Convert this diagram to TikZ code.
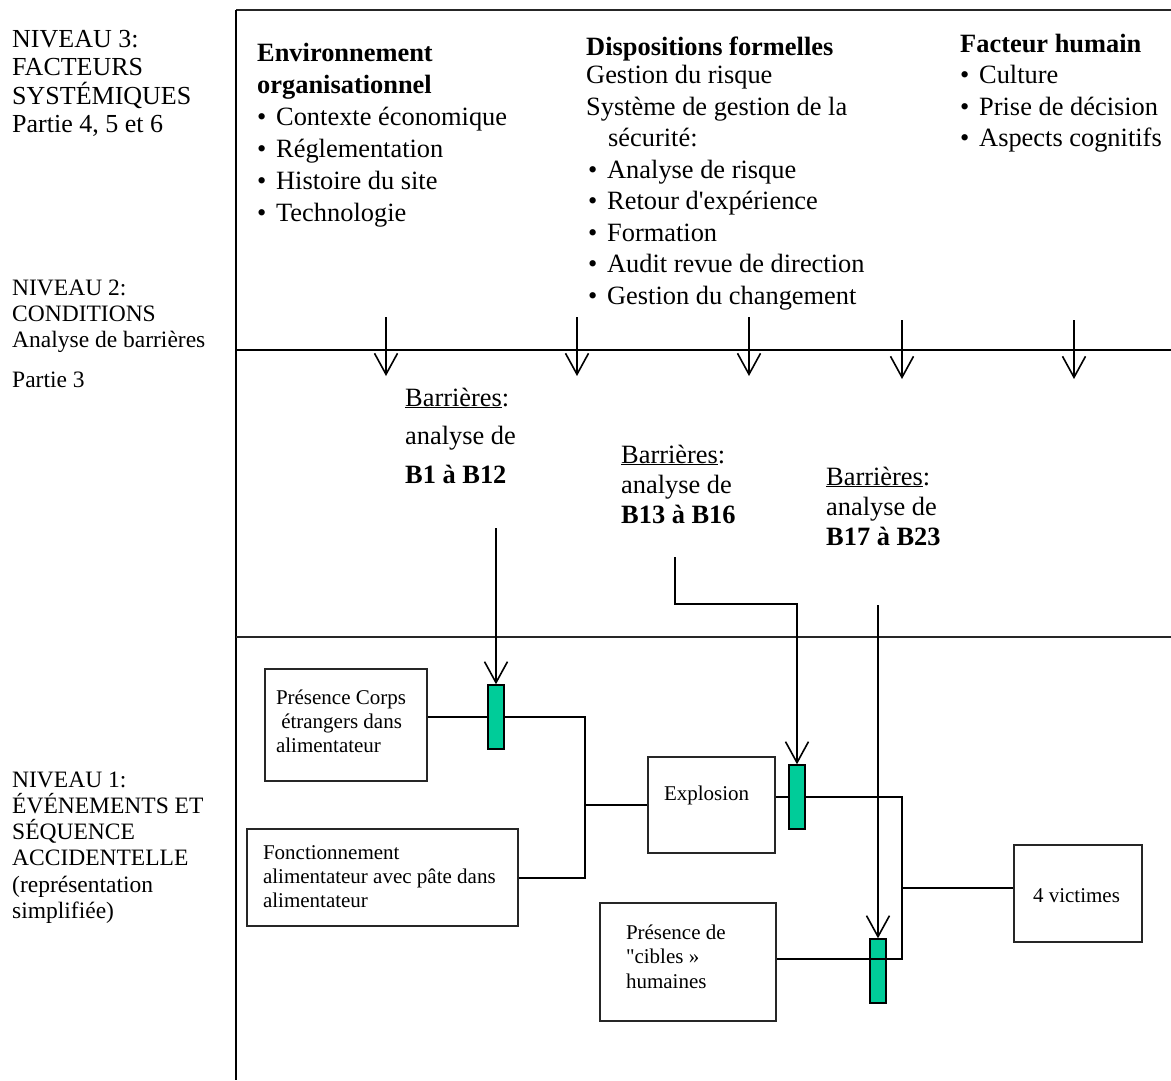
\documentclass[tikz,border=0pt]{standalone}
\usepackage{fontspec}
\setmainfont{Liberation Serif}
\usetikzlibrary{arrows.meta}

\definecolor{barrier}{RGB}{0,204,153}

% font sizes (1pt of the picture = one unit)
\newcommand\fsbody{\fontsize{26.4}{31.5}\selectfont}
\newcommand\fsthree{\fontsize{26}{28.5}\selectfont}
\newcommand\fslow{\fontsize{23.5}{26.3}\selectfont}
\newcommand\fsbox{\fontsize{21}{24}\selectfont}

% bullet followed by a fixed gap
\newcommand\bul{\hbox to 19pt{\textbullet\hfil}}
% stacked lines, baseline = first line
\newcommand\textrows[1]{\vtop{\lineskiplimit=-100pt #1}}
% stacked lines with a fixed block width
\newcommand\boxrows[2]{\vtop{\lineskiplimit=-100pt #2\hrule height 0pt depth 0pt width #1}}

\tikzset{
  txt/.style={inner sep=0pt, anchor=base west},
  frameline/.style={line width=1.5pt, black},
  levelline/.style={line width=2.2pt, black!85},
  conn/.style={line width=1.6pt, black},
  flowarrow/.style={conn, -{Straight Barb[length=21pt,width=23pt]}},
  event/.style={draw=black!85, line width=1.2pt, inner ysep=0pt, font=\fsbox},
  barrierbar/.style={draw=black, line width=1.4pt, fill=barrier,
    minimum width=16pt, minimum height=64pt, inner sep=0pt},
}

\begin{document}
\begin{tikzpicture}[x=1pt,y=-1pt]
\useasboundingbox (0,0) rectangle (1171,1080);

% frame and level separators
\draw[levelline] (236,10) -- (1171,10);
\draw[frameline] (236,10) -- (236,1080);
\draw[levelline, black] (236,350) -- (1171,350);
\draw[levelline] (236,637) -- (1171,637);

% level titles
\node[txt, font=\fsthree] (lvlthree) at (12,47)
  {\textrows{\hbox{NIVEAU 3:}\hbox{FACTEURS}\hbox{SYSTÉMIQUES}\hbox{Partie 4, 5 et 6}}};
\node[txt, font=\fslow] (lvltwo) at (12,295)
  {\textrows{\hbox{NIVEAU 2:}\hbox{CONDITIONS}\hbox{Analyse de barrières}\vskip13.5pt\hbox{Partie 3}}};
\node[txt, font=\fslow] (lvlone) at (12,787)
  {\textrows{\hbox{NIVEAU 1:}\hbox{ÉVÉNEMENTS ET}\hbox{SÉQUENCE}\hbox{ACCIDENTELLE}\hbox{(représentation}\hbox{simplifiée)}}};

% systemic factors
\node[txt, font=\fsbody] (orgenv) at (257,61)
  {\vtop{\baselineskip=32pt\lineskiplimit=-100pt
   \hbox{\textbf{Environnement}}\hbox{\textbf{organisationnel}}
   \hbox{\bul Contexte économique}\hbox{\bul Réglementation}
   \hbox{\bul Histoire du site}\hbox{\bul Technologie}}};
\node[txt, font=\fsbody] (formal) at (586,55)
  {\textrows{\hbox{\textbf{Dispositions formelles}}\vskip-3pt
   \hbox{Gestion du risque}\hbox{Système de gestion de la}\hbox{\kern22pt sécurité:}
   \hbox{\kern2pt\bul Analyse de risque}\hbox{\kern2pt\bul Retour d\textquotesingle expérience}
   \hbox{\kern2pt\bul Formation}\hbox{\kern2pt\bul Audit revue de direction}
   \hbox{\kern2pt\bul Gestion du changement}}};
\node[txt, font=\fsbody] (human) at (960,52)
  {\textrows{\hbox{\textbf{Facteur humain}}\hbox{\bul Culture}
   \hbox{\bul Prise de décision}\hbox{\bul Aspects cognitifs}}};

% influence of level 3 on level 2
\foreach[count=\i] \xa/\ya in {386/317, 577/317, 749/317, 902/320, 1074/320}{
  \coordinate (in\i) at (\xa,\ya);
  \coordinate (out\i) at (\xa,\ya+59);
  \draw[flowarrow] (in\i) -- (out\i);
}

% barrier analyses
\node[txt, font=\fsbody] (bfirst) at (405,406)
  {\vtop{\baselineskip=38.5pt\lineskiplimit=-100pt
   \hbox{\underline{Barrières}:}\hbox{analyse de}\hbox{\textbf{B1 à B12}}}};
\node[txt, font=\fsbody] (bsecond) at (621,463)
  {\vtop{\baselineskip=30pt\lineskiplimit=-100pt
   \hbox{\underline{Barrières}:}\hbox{analyse de}\hbox{\textbf{B13 à B16}}}};
\node[txt, font=\fsbody] (bthird) at (826,485)
  {\vtop{\baselineskip=30pt\lineskiplimit=-100pt
   \hbox{\underline{Barrières}:}\hbox{analyse de}\hbox{\textbf{B17 à B23}}}};

% accident sequence
\node[event, inner xsep=11pt, text height=35pt, text depth=77pt] (corps) at (346,725)
  {\boxrows{140pt}{\hbox{Présence Corps}\hbox{\ étrangers dans}\hbox{alimentateur}}};
\node[event, inner xsep=16pt, text height=30pt, text depth=67pt] (pate) at (382.5,877.5)
  {\boxrows{239pt}{\hbox{Fonctionnement}\hbox{alimentateur avec pâte dans}\hbox{alimentateur}}};
\node[event, inner xsep=16pt, text height=43pt, text depth=53pt] (expl) at (711.5,805)
  {\boxrows{95pt}{\hbox{Explosion}}};
\node[event, inner xsep=26pt, text height=36pt, text depth=82pt] (cibles) at (688,962)
  {\boxrows{124pt}{\baselineskip=24.5pt\hbox{Présence de}\hbox{\textquotedbl cibles »}\hbox{humaines}}};
\node[event, inner xsep=19pt, text height=57pt, text depth=40pt] (victimes) at (1078,893.5)
  {\boxrows{90pt}{\hbox{4 victimes}}};

% barriers
\node[barrierbar] (bar1) at (496,717) {};
\node[barrierbar] (bar2) at (797,797) {};
\node[barrierbar] (bar3) at (878,971) {};

% junction points
\coordinate (jA) at (585,717);
\coordinate (jB) at (585,878);
\coordinate (jC) at (902,797);
\coordinate (jD) at (902,959);
\coordinate (jE) at (902,888);

% event links
\draw[conn] (corps.east |- bar1.center) -- (bar1.west);
\draw[conn] (bar1.east) -- (jA) -- (jB) -- (pate.east |- jB);
\draw[conn] (jA |- expl.west) -- (expl.west);
\draw[conn] (expl.east |- bar2.center) -- (bar2.west);
\draw[conn] (bar2.east) -- (jC) -- (jD) -- (cibles.east |- jD);
\draw[conn] (jE) -- (victimes.west |- jE);

% barrier analyses acting on the barriers
\coordinate (fromB1) at (496,528);
\coordinate (fromB13) at (675,557);
\coordinate (bendB13) at (675,604);
\coordinate (fromB17) at (878,605);
\draw[flowarrow] (fromB1) -- (bar1.north);
\draw[flowarrow] (fromB13) -- (bendB13) -- (bendB13 -| bar2.north) -- (bar2.north);
\draw[flowarrow] (fromB17) -- (bar3.north);
\end{tikzpicture}
\end{document}
